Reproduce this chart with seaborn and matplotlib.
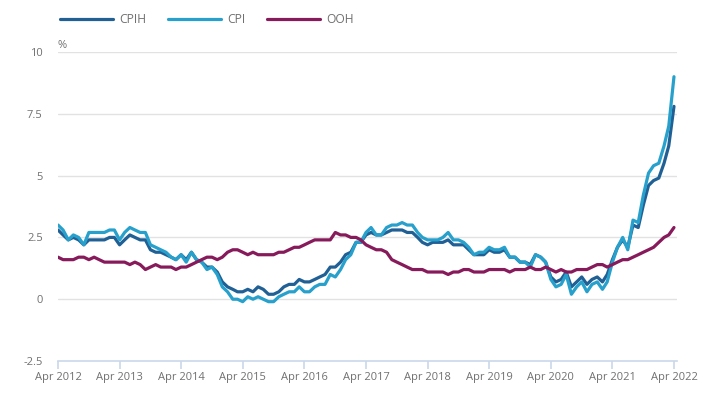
'''Consumer price inflation plot module.

Plots the 12-month rates of CPIH, CPI and the owner occupiers' housing
costs (OOH) component between April 2012 and April 2022.
'''

# -----------------------------------------------------------------------------
# Modules

import matplotlib
matplotlib.use('Agg')
from matplotlib import pyplot as plt  # type: ignore
import matplotlib.dates as mdates  # type: ignore
import pandas as pd  # type: ignore
import seaborn as sns  # type: ignore

# -----------------------------------------------------------------------------
# Data (12-month rates, %, monthly from Apr 2012)

start_month: str = '2012-04-01'

cpih: list = [
    2.8, 2.6, 2.4, 2.5, 2.4, 2.2, 2.4, 2.4, 2.4,
    2.4, 2.5, 2.5, 2.2, 2.4, 2.6, 2.5, 2.4, 2.4, 2.0, 1.9, 1.9,
    1.8, 1.7, 1.6, 1.8, 1.6, 1.9, 1.6, 1.5, 1.3, 1.3, 1.1, 0.7,
    0.5, 0.4, 0.3, 0.3, 0.4, 0.3, 0.5, 0.4, 0.2, 0.2, 0.3, 0.5,
    0.6, 0.6, 0.8, 0.7, 0.7, 0.8, 0.9, 1.0, 1.3, 1.3, 1.5, 1.8,
    1.9, 2.3, 2.3, 2.6, 2.7, 2.6, 2.6, 2.7, 2.8, 2.8, 2.8, 2.7,
    2.7, 2.5, 2.3, 2.2, 2.3, 2.3, 2.3, 2.4, 2.2, 2.2, 2.2, 2.0,
    1.8, 1.8, 1.8, 2.0, 1.9, 1.9, 2.0, 1.7, 1.7, 1.5, 1.5, 1.4,
    1.8, 1.7, 1.5, 0.9, 0.7, 0.8, 1.1, 0.5, 0.7, 0.9, 0.6, 0.8,
    0.9, 0.7, 1.0, 1.6, 2.1, 2.4, 2.1, 3.0, 2.9, 3.8, 4.6, 4.8,
    4.9, 5.5, 6.2, 7.8]

cpi: list = [
    3.0, 2.8, 2.4, 2.6, 2.5, 2.2, 2.7, 2.7, 2.7,
    2.7, 2.8, 2.8, 2.4, 2.7, 2.9, 2.8, 2.7, 2.7, 2.2, 2.1, 2.0,
    1.9, 1.7, 1.6, 1.8, 1.5, 1.9, 1.6, 1.5, 1.2, 1.3, 1.0, 0.5,
    0.3, 0.0, 0.0, -0.1, 0.1, 0.0, 0.1, 0.0, -0.1, -0.1, 0.1, 0.2,
    0.3, 0.3, 0.5, 0.3, 0.3, 0.5, 0.6, 0.6, 1.0, 0.9, 1.2, 1.6,
    1.8, 2.3, 2.3, 2.7, 2.9, 2.6, 2.6, 2.9, 3.0, 3.0, 3.1, 3.0,
    3.0, 2.7, 2.5, 2.4, 2.4, 2.4, 2.5, 2.7, 2.4, 2.4, 2.3, 2.1,
    1.8, 1.9, 1.9, 2.1, 2.0, 2.0, 2.1, 1.7, 1.7, 1.5, 1.5, 1.3,
    1.8, 1.7, 1.5, 0.8, 0.5, 0.6, 1.0, 0.2, 0.5, 0.7, 0.3, 0.6,
    0.7, 0.4, 0.7, 1.5, 2.1, 2.5, 2.0, 3.2, 3.1, 4.2, 5.1, 5.4,
    5.5, 6.2, 7.0, 9.0]

ooh: list = [
    1.7, 1.6, 1.6, 1.6, 1.7, 1.7, 1.6, 1.7, 1.6,
    1.5, 1.5, 1.5, 1.5, 1.5, 1.4, 1.5, 1.4, 1.2, 1.3, 1.4, 1.3,
    1.3, 1.3, 1.2, 1.3, 1.3, 1.4, 1.5, 1.6, 1.7, 1.7, 1.6, 1.7,
    1.9, 2.0, 2.0, 1.9, 1.8, 1.9, 1.8, 1.8, 1.8, 1.8, 1.9, 1.9,
    2.0, 2.1, 2.1, 2.2, 2.3, 2.4, 2.4, 2.4, 2.4, 2.7, 2.6, 2.6,
    2.5, 2.5, 2.4, 2.2, 2.1, 2.0, 2.0, 1.9, 1.6, 1.5, 1.4, 1.3,
    1.2, 1.2, 1.2, 1.1, 1.1, 1.1, 1.1, 1.0, 1.1, 1.1, 1.2, 1.2,
    1.1, 1.1, 1.1, 1.2, 1.2, 1.2, 1.2, 1.1, 1.2, 1.2, 1.2, 1.3,
    1.2, 1.2, 1.3, 1.2, 1.1, 1.2, 1.1, 1.1, 1.2, 1.2, 1.2, 1.3,
    1.4, 1.4, 1.3, 1.4, 1.5, 1.6, 1.6, 1.7, 1.8, 1.9, 2.0, 2.1,
    2.3, 2.5, 2.6, 2.9]

series_names: list = ['CPIH', 'CPI', 'OOH']
y_ticks: list = [-2.5, 0, 2.5, 5, 7.5, 10]
y_tick_labels: list = ['-2.5', '0', '2.5', '5', '7.5', '10']

# -----------------------------------------------------------------------------


def inflation_plot() -> None:
    """Plots the CPIH, CPI and OOH 12-month rates and saves out.png.

    :return: None -- The function saves the plot in a file and does not return
     a value.
    """

    dates = pd.date_range(start_month, periods=len(cpih), freq='MS')
    data = pd.DataFrame({'date': dates, 'CPIH': cpih, 'CPI': cpi, 'OOH': ooh})
    long_data = data.melt(id_vars='date', var_name='series', value_name='rate')

    sns.set_theme(style='white')
    plt.rcParams['font.family'] = ['Open Sans', 'DejaVu Sans']

    text_grey = '#707070'
    axis_blue = '#c9d7ea'
    palette = {'CPIH': '#206095', 'CPI': '#27a0cc', 'OOH': '#871a5b'}

    figure = plt.figure(figsize=(7.11, 3.99), dpi=100)
    ax = figure.add_axes([0.0816, 0.0952, 0.8706, 0.7745])

    sns.lineplot(data=long_data, x='date', y='rate', hue='series',
                 hue_order=series_names, palette=palette, linewidth=2.3,
                 ax=ax)

    ax.set_ylim(-2.5, 10)
    ax.set_xlim(dates[0], pd.Timestamp('2022-04-19'))
    ax.set_yticks(y_ticks)
    ax.set_yticklabels(y_tick_labels)
    ax.set_xlabel('')
    ax.set_ylabel('')

    ax.xaxis.set_major_locator(mdates.MonthLocator(bymonth=4))
    ax.xaxis.set_major_formatter(mdates.DateFormatter('%b %Y'))

    for y_val in y_ticks[1:]:
        ax.axhline(y_val, color='#e2e2e2', linewidth=1, zorder=0)

    for side in ('top', 'right', 'left'):
        ax.spines[side].set_visible(False)
    ax.spines['bottom'].set_color(axis_blue)
    ax.spines['bottom'].set_linewidth(1.2)

    ax.tick_params(axis='x', direction='out', length=6, width=1.2,
                   color=axis_blue, labelcolor=text_grey, labelsize=8,
                   pad=2, bottom=True)
    ax.tick_params(axis='y', length=0, labelcolor=text_grey, labelsize=8,
                   pad=11)

    figure.text(57 / 711, 1 - 45 / 399, '%', color=text_grey, fontsize=8,
                va='center', ha='left')

    sns.move_legend(ax, 'upper left', bbox_to_anchor=(60 / 711, 1 - 13 / 399),
                    bbox_transform=figure.transFigure, ncol=3, frameon=False,
                    title=None, handlelength=4.4, handletextpad=0.5,
                    columnspacing=1.8, borderpad=0, borderaxespad=0,
                    fontsize=8.7, labelcolor=text_grey)

    figure.savefig('out.png', dpi=100)
    plt.close()

# -----------------------------------------------------------------------------


def main() -> None:
    """The main function of the script.

    :return: None.
    """

    inflation_plot()

# -----------------------------------------------------------------------------


if __name__ == "__main__":
    main()
